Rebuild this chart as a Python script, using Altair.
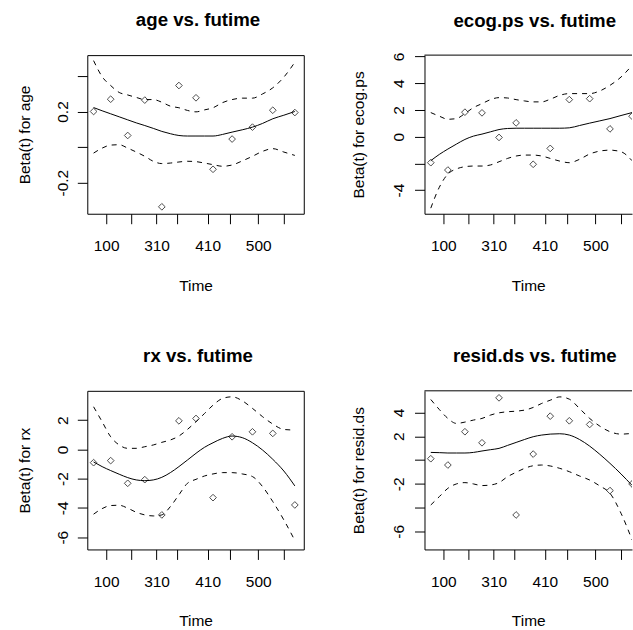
import altair as alt
import pandas as pd

FONT = "Liberation Sans"

# Kaplan-Meier scaled time of the 12 deaths (transform used by cox.zph)
event_km = [0.0, 0.0385, 0.0769, 0.1154, 0.1538, 0.1923, 0.2308, 0.2692,
            0.3122, 0.3581, 0.4039, 0.4536]
# positions where the smoothed curves are evaluated
grid_km = [0.0, 0.0192, 0.0385, 0.0577, 0.0769, 0.0962, 0.1154, 0.1346,
           0.1538, 0.1731, 0.1923, 0.2115, 0.2308, 0.2500, 0.2692, 0.2907,
           0.3122, 0.3351, 0.3581, 0.3810, 0.4039, 0.4288, 0.4536]

# time axis: tick positions on the KM scale and their labels (crowded ones left blank)
time_ticks = [0.0282, 0.0852, 0.1419, 0.1875, 0.2570, 0.3070, 0.3711, 0.4284]
time_labels = ["100", "", "310", "", "410", "", "500", ""]

# age
age_resid = [0.200, 0.269, 0.065, 0.264, -0.336, 0.346, 0.277, -0.125, 0.045, 0.112, 0.207, 0.194]
age_fit = [0.222, 0.204, 0.187, 0.170, 0.153, 0.136, 0.121, 0.105, 0.088, 0.075, 0.065, 0.062,
           0.062, 0.062, 0.062, 0.071, 0.084, 0.097, 0.112, 0.133, 0.159, 0.179, 0.200]
age_upper = [0.486, 0.396, 0.346, 0.307, 0.293, 0.279, 0.267, 0.267, 0.252, 0.230, 0.221, 0.206,
             0.198, 0.209, 0.221, 0.250, 0.267, 0.275, 0.275, 0.299, 0.333, 0.393, 0.477]
age_lower = [-0.034, -0.006, 0.011, 0.013, -0.006, -0.028, -0.052, -0.080, -0.093, -0.090, -0.084,
             -0.080, -0.082, -0.090, -0.099, -0.108, -0.101, -0.078, -0.052, -0.024, -0.009, -0.028, -0.047]
age_ticks = [-0.2, 0.0, 0.2, 0.4]
age_labels = ["-0.2", "", "0.2", ""]

# ecog.ps
ecog_resid = [-1.95, -2.50, 1.83, 1.78, -0.06, 1.03, -2.07, -0.88, 2.77, 2.84, 0.58, 1.53]
ecog_fit = [-1.80, -1.33, -0.93, -0.56, -0.21, 0.04, 0.19, 0.36, 0.53, 0.61, 0.63, 0.63,
            0.63, 0.63, 0.63, 0.63, 0.66, 0.83, 1.01, 1.18, 1.35, 1.58, 1.80]
ecog_upper = [1.80, 1.53, 1.30, 1.35, 1.73, 2.17, 2.47, 2.77, 2.92, 2.89, 2.77, 2.67,
              2.60, 2.60, 2.80, 3.09, 3.22, 3.22, 3.22, 3.42, 3.84, 4.46, 5.33]
ecog_lower = [-5.35, -3.79, -2.80, -2.42, -2.25, -2.20, -2.20, -2.12, -1.88, -1.63, -1.45, -1.38,
              -1.38, -1.45, -1.63, -1.83, -1.95, -1.70, -1.30, -1.08, -1.01, -1.13, -1.80]
ecog_ticks = [-4, -2, 0, 2, 4, 6]
ecog_labels = ["-4", "", "0", "2", "4", "6"]

# rx
rx_resid = [-0.91, -0.77, -2.32, -2.07, -4.48, 1.95, 2.11, -3.30, 0.86, 1.20, 1.09, -3.80]
rx_fit = [-0.86, -1.18, -1.45, -1.70, -1.93, -2.09, -2.14, -2.09, -1.91, -1.59, -1.18, -0.73,
          -0.27, 0.14, 0.45, 0.75, 0.91, 0.80, 0.45, -0.05, -0.68, -1.48, -2.50]
rx_upper = [2.91, 1.89, 0.86, 0.30, 0.07, 0.07, 0.18, 0.30, 0.48, 0.64, 0.91, 1.36,
            1.89, 2.45, 3.02, 3.48, 3.59, 3.32, 2.80, 2.23, 1.73, 1.36, 1.32]
rx_lower = [-4.43, -4.05, -3.84, -3.82, -4.02, -4.30, -4.48, -4.55, -4.48, -3.91, -3.11, -2.32,
            -2.05, -1.82, -1.68, -1.59, -1.59, -1.68, -1.86, -2.55, -3.57, -4.82, -6.23]
rx_ticks = [-6, -4, -2, 0, 2]
rx_labels = ["-6", "-4", "-2", "0", "2"]

# resid.ds
rd_resid = [0.11, -0.42, 2.38, 1.45, 5.23, -4.62, 0.50, 3.69, 3.30, 2.99, -2.57, -2.01]
rd_fit = [0.64, 0.62, 0.59, 0.59, 0.59, 0.64, 0.76, 0.87, 0.98, 1.23, 1.48, 1.73,
          1.96, 2.10, 2.18, 2.21, 2.10, 1.73, 1.17, 0.48, -0.28, -1.17, -2.13]
rd_upper = [5.09, 4.25, 3.50, 3.08, 3.19, 3.36, 3.50, 3.78, 3.97, 4.06, 4.11, 4.20,
            4.42, 4.76, 5.03, 5.31, 5.12, 4.34, 3.50, 2.85, 2.38, 2.18, 2.24]
rd_lower = [-3.78, -3.08, -2.38, -2.01, -1.90, -2.01, -2.15, -2.10, -1.90, -1.40, -1.03, -0.70,
            -0.48, -0.42, -0.50, -0.70, -0.98, -1.34, -1.68, -2.18, -2.80, -4.48, -6.71]
rd_ticks = [-6, -4, -2, 0, 2, 4]
rd_labels = ["-6", "", "-2", "", "2", "4"]

X_LO = -0.0142
PX_PER_KM = 444.7
PANEL_H = 159


def label_expr(values, labels):
    parts = [f"datum.value == {v} ? '{t}'" for v, t in zip(values, labels)]
    return " : ".join(parts) + " : ''"


def panel(var, resid, fit, upper, lower, ydomain, yticks, ylabels,
          width, framed, title_dx, title_dy, ytitle_x, ylabel_pad):
    pts = pd.DataFrame({"km": event_km, "beta": resid})
    fit_df = pd.DataFrame({"km": grid_km, "beta": fit})
    band_df = pd.DataFrame({
        "km": grid_km + grid_km,
        "beta": upper + lower,
        "band": ["upper"] * len(grid_km) + ["lower"] * len(grid_km),
    })

    x_scale = alt.Scale(domain=[X_LO, X_LO + width / PX_PER_KM], nice=False, zero=False)
    y_scale = alt.Scale(domain=ydomain, nice=False, zero=False)

    x_axis = alt.Axis(
        values=time_ticks, labelExpr=label_expr(time_ticks, time_labels),
        title="Time", grid=False, domain=not framed, domainColor="black",
        tickColor="black", tickSize=10, labelPadding=27, labelBaseline="alphabetic",
        labelFont=FONT, labelFontSize=15.5, labelColor="black", labelFlush=False,
        labelOverlap=False, titleFont=FONT, titleFontSize=15.5, titleFontWeight="normal",
        titleColor="black", titleBaseline="alphabetic", titleY=76.5,
    )
    y_axis = alt.Axis(
        values=yticks, labelExpr=label_expr(yticks, ylabels),
        title=f"Beta(t) for {var}", grid=False, domain=not framed, domainColor="black",
        tickColor="black", tickSize=10, labelPadding=ylabel_pad, labelAngle=270,
        labelAlign="center", labelBaseline="alphabetic", labelFont=FONT,
        labelFontSize=15.5, labelColor="black", labelFlush=False, labelOverlap=False,
        titleFont=FONT, titleFontSize=15.5, titleFontWeight="normal", titleColor="black",
        titleAngle=270, titleBaseline="alphabetic", titleX=ytitle_x,
    )

    x = alt.X("km:Q", scale=x_scale, axis=x_axis)
    y = alt.Y("beta:Q", scale=y_scale, axis=y_axis)

    points = alt.Chart(pts).mark_point(
        shape="diamond", filled=False, size=45, color="black", strokeWidth=1, clip=True
    ).encode(x=x, y=y)
    smooth = alt.Chart(fit_df).mark_line(
        color="black", strokeWidth=1, interpolate="monotone", clip=True
    ).encode(x=x, y=y)
    bands = alt.Chart(band_df).mark_line(
        color="black", strokeWidth=1, strokeDash=[5, 5], interpolate="monotone", clip=True
    ).encode(x=x, y=y, detail="band:N")

    layers = [bands, smooth, points]
    if not framed:
        top_edge = alt.Chart(pd.DataFrame({"edge": [0]})).mark_rule(
            color="black", strokeWidth=1
        ).encode(x=alt.value(0), x2=alt.value(width), y=alt.value(0))
        layers.append(top_edge)

    view = (alt.ViewBackground(stroke="black", strokeWidth=1) if framed
            else alt.ViewBackground(stroke="transparent"))

    return alt.layer(*layers).properties(
        width=width, height=PANEL_H, view=view,
        title=alt.TitleParams(
            text=f"{var} vs. futime", font=FONT, fontSize=18.7, fontWeight="bold",
            color="black", anchor="middle", frame="group", dx=title_dx, dy=title_dy,
            baseline="alphabetic", offset=10,
        ),
    )


p_age = panel("age", age_resid, age_fit, age_upper, age_lower, [-0.375, 0.517],
              age_ticks, age_labels, 217, True, 2.5, 0, -57.5, 9.5)
p_ecog = panel("ecog.ps", ecog_resid, ecog_fit, ecog_upper, ecog_lower, [-5.77, 6.10],
               ecog_ticks, ecog_labels, 208, False, 6.5, 3, -61, 11)
p_rx = panel("rx", rx_resid, rx_fit, rx_upper, rx_lower, [-6.84, 4.00],
             rx_ticks, rx_labels, 217, True, 2.5, 0, -57.5, 9.5)
p_rd = panel("resid.ds", rd_resid, rd_fit, rd_upper, rd_lower, [-7.52, 5.82],
             rd_ticks, rd_labels, 208, False, 6.5, 0, -61, 11)

chart = alt.concat(
    p_age, p_ecog, p_rx, p_rd, columns=2,
    spacing=alt.RowColnumber(row=177.5, column=121), bounds="flush",
).properties(
    padding={"left": 17.5, "top": 9.5, "right": 0, "bottom": 0},
    autosize=alt.AutoSizeParams(type="pad"),
    background="white",
)

chart.save("out.html", embed_options={"renderer": "svg", "actions": False})
